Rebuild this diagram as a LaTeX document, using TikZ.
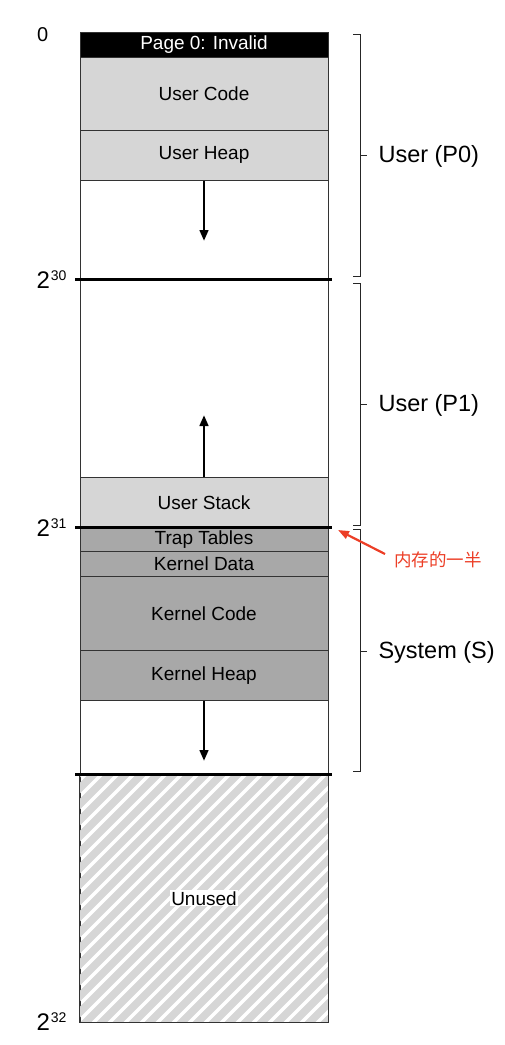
\documentclass[tikz,border=0pt]{standalone}
\usepackage{fontspec}
\setmainfont{Liberation Sans}
\newfontfamily\cjk{Noto Sans CJK SC}
\usetikzlibrary{arrows.meta}
\definecolor{ulight}{RGB}{214,214,214}
\definecolor{kdark}{RGB}{168,168,168}
\definecolor{hatchgrey}{RGB}{214,214,214}
\definecolor{notered}{RGB}{236,62,38}
\begin{document}
\begin{tikzpicture}[x=1pt,y=-1pt,
  region/.style={draw=black!80, line width=0.8pt, minimum width=248pt, inner sep=0pt, anchor=north, font=\fontsize{19}{20}\selectfont},
  boundary/.style={line width=3pt, black},
  growarrow/.style={line width=2.8pt, -{Triangle[length=11pt,width=8.5pt]}},
  bracketline/.style={line width=0.8pt, black!85},
  sidelabel/.style={anchor=west, font=\fontsize{23.5}{26}\selectfont},
  addr/.style={anchor=base west, font=\fontsize{24}{26}\selectfont, inner sep=0pt}]
\useasboundingbox (0,0) rectangle (504,1045);
\newcommand{\expo}[1]{\kern0.8pt\raisebox{8pt}{\fontsize{14}{14}\selectfont #1}}

% regions
\node[region, fill=black, text=white, minimum height=25pt] (page0) at (204,32) {Page 0: Invalid};
\node[region, fill=ulight, minimum height=73pt] (ucode) at (204,57) {User Code};
\node[region, fill=ulight, minimum height=50pt] (uheap) at (204,130) {User Heap};
\node[region, fill=white, minimum height=99pt] (free1) at (204,180) {};
\node[region, fill=white, minimum height=198pt] (free2) at (204,279) {};
\node[region, fill=ulight, minimum height=50pt] (ustack) at (204,477) {User Stack};
\node[region, fill=kdark, minimum height=24pt] (trap) at (204,527) {Trap Tables};
\node[region, fill=kdark, minimum height=25pt] (kdata) at (204,551) {Kernel Data};
\node[region, fill=kdark, minimum height=74pt] (kcode) at (204,576) {Kernel Code};
\node[region, fill=kdark, minimum height=50pt] (kheap) at (204,650) {Kernel Heap};
\node[region, fill=white, minimum height=74pt] (free3) at (204,700) {};
\node[region, minimum height=248pt] (unused) at (204,774) {};

% hatch in unused
\begin{scope}
  \clip (unused.south west) rectangle (unused.north east);
  \foreach \i in {-300,-284,...,340} {
    \draw[hatchgrey, line width=7.5pt] (\i,1040) -- ++(290,-290);
  }
\end{scope}
\draw[black!80, line width=0.8pt] (unused.south west) rectangle (unused.north east);
\node[fill=white, inner sep=1pt, font=\fontsize{19}{20}\selectfont] (unusedlabel) at (unused.center) {Unused};

% boundaries
\coordinate (b30l) at (75,279); \coordinate (b30r) at (332,279);
\coordinate (b31l) at (75,527); \coordinate (b31r) at (332,527);
\coordinate (b3xl) at (75,774); \coordinate (b3xr) at (332,774);
\draw[boundary] (b30l) -- (b30r);
\draw[boundary] (b31l) -- (b31r);
\draw[boundary] (b3xl) -- (b3xr);

% growth arrows
\coordinate (heapend) at (204,241);
\coordinate (stackend) at (204,415);
\coordinate (kheapend) at (204,761);
\draw[growarrow] (uheap.south) -- (heapend);
\draw[growarrow] (ustack.north) -- (stackend);
\draw[growarrow] (kheap.south) -- (kheapend);

% addresses
\node[anchor=base west, font=\fontsize{20}{22}\selectfont, inner sep=0pt] (a0) at (37,41) {0};
\node[addr] (a30) at (36.5,288) {2\expo{30}};
\node[addr] (a31) at (36.5,536) {2\expo{31}};
\node[addr] (a32) at (36.5,1030.5) {2\expo{32}};

% brackets
\draw[bracketline] (353,34) -- (360,34) -- (360,276) -- (353,276);
\draw[bracketline] (360,155) -- (367,155);
\draw[bracketline] (353,283) -- (360,283) -- (360,525) -- (353,525);
\draw[bracketline] (360,404) -- (367,404);
\draw[bracketline] (353,529) -- (360,529) -- (360,771) -- (353,771);
\draw[bracketline] (360,651) -- (367,651);
\node[sidelabel] (p0) at (375,156) {User (P0)};
\node[sidelabel] (p1) at (375,405) {User (P1)};
\node[sidelabel] (sys) at (375,652) {System (S)};

% note
\node[text=notered, font=\cjk\fontsize{17.5}{18}\selectfont, inner sep=1pt] (half) at (438,560) {内存的一半};
\coordinate (halftip) at (338,530);
\draw[notered, line width=2.2pt, -{Triangle[length=11pt,width=8pt]}] (385,554) -- (halftip);
\end{tikzpicture}
\end{document}
